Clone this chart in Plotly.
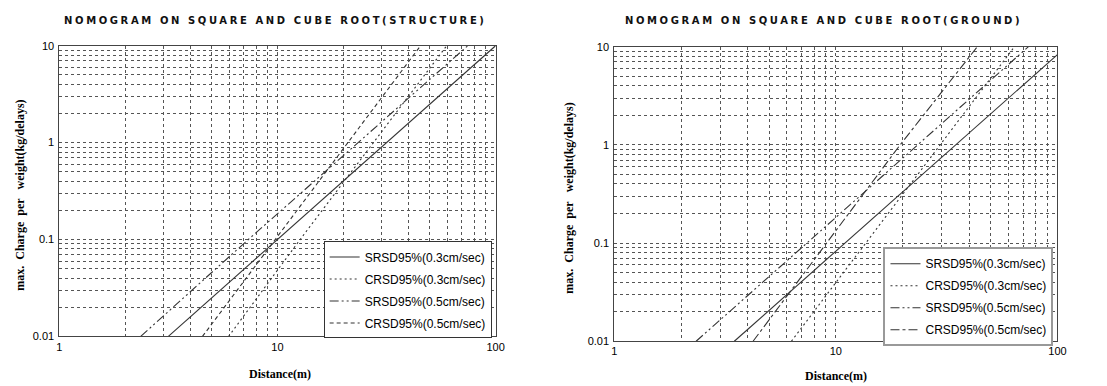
import plotly.graph_objects as go

# ---------------- data ----------------
series_names = ["SRSD95%(0.3cm/sec)", "CRSD95%(0.3cm/sec)",
                "SRSD95%(0.5cm/sec)", "CRSD95%(0.5cm/sec)"]

# Structure panel
st_s03_d = [3.16, 10.0, 100.0]
st_s03_w = [0.01, 0.1, 10.0]
st_c03_d = [5.97, 12.7, 59.7]
st_c03_w = [0.01, 0.1, 10.0]
st_s05_d = [2.36, 7.35, 74.6]
st_s05_w = [0.01, 0.1, 10.0]
st_c05_d = [4.53, 9.76, 45.3]
st_c05_w = [0.01, 0.1, 10.0]

# Ground panel
gr_s03_d = [3.48, 11.0, 100.0]
gr_s03_w = [0.01, 0.1, 8.3]
gr_c03_d = [6.3, 13.6, 64.0]
gr_c03_w = [0.01, 0.1, 10.0]
gr_s05_d = [2.34, 7.4, 74.0]
gr_s05_w = [0.01, 0.1, 10.0]
gr_c05_d = [4.23, 19.5, 43.5]
gr_c05_w = [0.01, 1.0, 10.0]

x_tickvals = [1, 10, 100]
x_ticktext = ["1", "10", "100"]
x_minor = [2, 3, 4, 5, 6, 7, 8, 9, 20, 30, 40, 50, 60, 70, 80, 90]
y_tickvals = [0.01, 0.1, 1, 10]
y_ticktext = ["0.01", "0.1", "1", "10"]
y_minor = [0.02, 0.03, 0.04, 0.05, 0.06, 0.07, 0.08, 0.09,
           0.2, 0.3, 0.4, 0.5, 0.6, 0.7, 0.8, 0.9,
           2, 3, 4, 5, 6, 7, 8, 9]

title_left = "NOMOGRAM ON SQUARE AND CUBE ROOT(STRUCTURE)"
title_right = "NOMOGRAM ON SQUARE AND CUBE ROOT(GROUND)"
x_title = "Distance(m)"
y_title = "max.\u00a0\u00a0Charge\u00a0\u00a0per\u00a0\u00a0\u00a0weight(kg/delays)"

# ---------------- figure ----------------
W, H = 1107, 386
LC = "#333333"
fig = go.Figure()

styles_left = ["solid", "2px,3px", "9px,3px,2px,3px,2px,3px", "4px,3px"]
styles_right = ["solid", "2px,3px", "9px,3px,2px,3px,2px,3px", "9px,3px,3px,3px"]

left = [(st_s03_d, st_s03_w), (st_c03_d, st_c03_w), (st_s05_d, st_s05_w), (st_c05_d, st_c05_w)]
right = [(gr_s03_d, gr_s03_w), (gr_c03_d, gr_c03_w), (gr_s05_d, gr_s05_w), (gr_c05_d, gr_c05_w)]

for i, ((d, w), name, dash) in enumerate(zip(left, series_names, styles_left)):
    fig.add_trace(go.Scatter(x=d, y=w, mode="lines", name=name, legendgroup="L%d" % i,
                             line=dict(color=LC, width=1.1, dash=dash),
                             xaxis="x", yaxis="y", legend="legend"))
for i, ((d, w), name, dash) in enumerate(zip(right, series_names, styles_right)):
    fig.add_trace(go.Scatter(x=d, y=w, mode="lines", name=name, legendgroup="R%d" % i,
                             line=dict(color=LC, width=1.1, dash=dash),
                             xaxis="x2", yaxis="y2", legend="legend2"))

def px_x(p):
    return p / W

def px_y(p):
    return 1 - p / H

tick_font = dict(family="Liberation Sans, Arial", size=11, color="#000")
grid = dict(showgrid=True, gridcolor="#555555", griddash="dot", gridwidth=1)

def xaxis(dom, anchor):
    return dict(type="log", range=[0, 2], domain=dom, anchor=anchor,
                tickvals=x_tickvals, ticktext=x_ticktext, tickfont=tick_font,
                showline=True, linecolor="#444", linewidth=1, mirror=True,
                ticks="", zeroline=False,
                minor=dict(tickvals=x_minor, **grid), **grid)

def yaxis(dom, anchor):
    return dict(type="log", range=[-2, 1], domain=dom, anchor=anchor,
                tickvals=y_tickvals, ticktext=y_ticktext, tickfont=tick_font,
                showline=True, linecolor="#444", linewidth=1, mirror=True,
                ticks="", zeroline=False, ticklabelstandoff=2,
                minor=dict(tickvals=y_minor, **grid), **grid)

legend_common = dict(bgcolor="white", font=dict(family="Liberation Sans, Arial", size=12, color="#000"),
                     xanchor="right", yanchor="top", itemwidth=30, tracegroupgap=3)

title_font = dict(family="DejaVu Sans", size=10, color="#111", weight="bold")
serif_bold = dict(family="Liberation Serif, Times New Roman", size=12, color="#000", weight="bold")

fig.update_layout(
    width=W, height=H, margin=dict(l=0, r=0, t=0, b=0),
    paper_bgcolor="white", plot_bgcolor="white",
    xaxis=xaxis([px_x(57), px_x(498)], "y"),
    yaxis=yaxis([px_y(341), px_y(41)], "x"),
    xaxis2=xaxis([px_x(618), px_x(1066)], "y2"),
    yaxis2=yaxis([px_y(346), px_y(42)], "x2"),
    legend=dict(x=px_x(494), y=px_y(243), bordercolor="#333", borderwidth=1, **legend_common),
    legend2=dict(x=px_x(1062), y=px_y(249), bordercolor="#999", borderwidth=2, **legend_common),
    showlegend=True,
    annotations=[
        dict(text=title_left, x=px_x(275), y=px_y(15), xref="paper", yref="paper",
             showarrow=False, font=title_font, xanchor="center", yanchor="middle"),
        dict(text=title_right, x=px_x(829), y=px_y(15), xref="paper", yref="paper",
             showarrow=False, font=title_font, xanchor="center", yanchor="middle"),
        dict(text=x_title, x=px_x(280), y=px_y(380), xref="paper", yref="paper",
             showarrow=False, font=serif_bold, xanchor="center", yanchor="middle"),
        dict(text=x_title, x=px_x(842), y=px_y(382), xref="paper", yref="paper",
             showarrow=False, font=serif_bold, xanchor="center", yanchor="middle"),
        dict(text=y_title, x=px_x(17), y=px_y(195), xref="paper", yref="paper",
             showarrow=False, font=serif_bold, textangle=-90, xanchor="center", yanchor="middle"),
        dict(text=y_title, x=px_x(572), y=px_y(198), xref="paper", yref="paper",
             showarrow=False, font=serif_bold, textangle=-90, xanchor="center", yanchor="middle"),
    ],
)

post = ("document.querySelectorAll('.annotation-text').forEach(function(e){"
        "if(e.textContent.indexOf('NOMOGRAM')===0){e.style.letterSpacing='2.6px';}});")
fig.write_html("out.html", post_script=post)
